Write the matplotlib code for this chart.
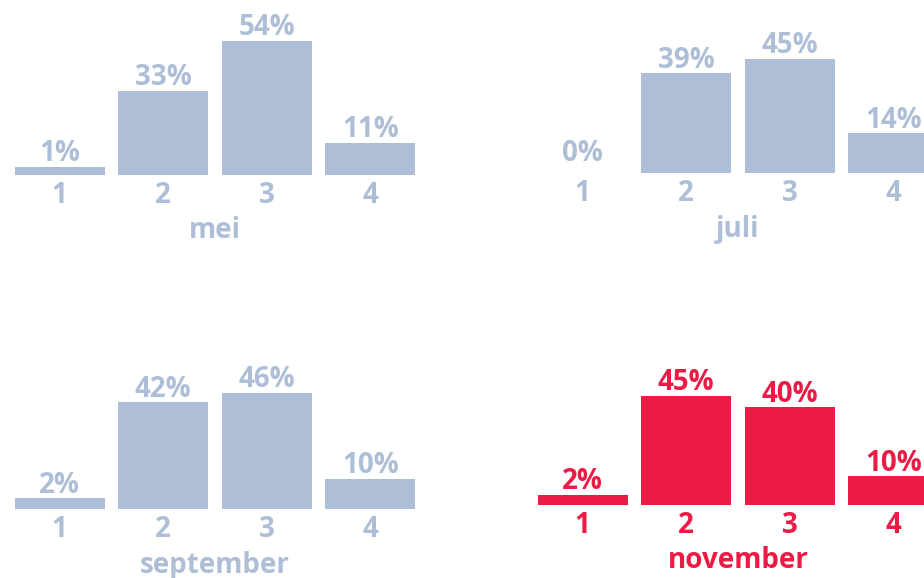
import matplotlib
matplotlib.use("Agg")
import matplotlib.pyplot as plt

categories = ["1", "2", "3", "4"]
months = ["mei", "juli", "september", "november"]
mei = [1, 33, 54, 11]
juli = [0, 39, 45, 14]
september = [2, 42, 46, 10]
november = [2, 45, 40, 10]
series = [mei, juli, september, november]

BLUE = "#adbed6"
RED = "#ec1b45"
colors = [BLUE, BLUE, BLUE, RED]

W, H = 924, 578
fig = plt.figure(figsize=(W / 100, H / 100), dpi=100)
plt.rcParams['font.family'] = ['Open Sans', 'DejaVu Sans']

# panel placement in pixels: (left, baseline_y_from_top, px_per_unit)
panels = [(8, 175, 2.38), (531, 173, 2.4), (8, 509, 2.4), (531, 505, 2.3)]
OFF = 2.5  # bars start slightly below zero
TOP = 62
FS = 20

for vals, month, col, (left, base, ppu) in zip(series, months, colors, panels):
    hpx = (TOP + OFF) * ppu
    ax = fig.add_axes([left / W, (H - base) / H, 414 / W, hpx / H])
    xs = range(len(categories))
    heights = [v + OFF if v > 0 else 0 for v in vals]
    ax.bar(xs, heights, bottom=-OFF, width=0.87, color=col)
    for x, v in zip(xs, vals):
        ax.annotate(f"{v}%", (x, v), xytext=(0, -1), textcoords="offset points",
                    ha="center", va="bottom", fontsize=FS, fontweight="bold", color=col)
    ax.set_xlim(-0.5, 3.5)
    ax.set_ylim(-OFF, TOP)
    ax.set_xticks(list(xs))
    ax.set_xticklabels(categories, fontsize=FS, fontweight="bold", color=col)
    ax.tick_params(axis="x", length=0, pad=4)
    ax.set_yticks([])
    ax.set_xlabel(month, fontsize=FS, fontweight="bold", color=col, labelpad=5)
    for s in ax.spines.values():
        s.set_visible(False)
    ax.patch.set_alpha(0)

fig.savefig("out.png", dpi=100)
